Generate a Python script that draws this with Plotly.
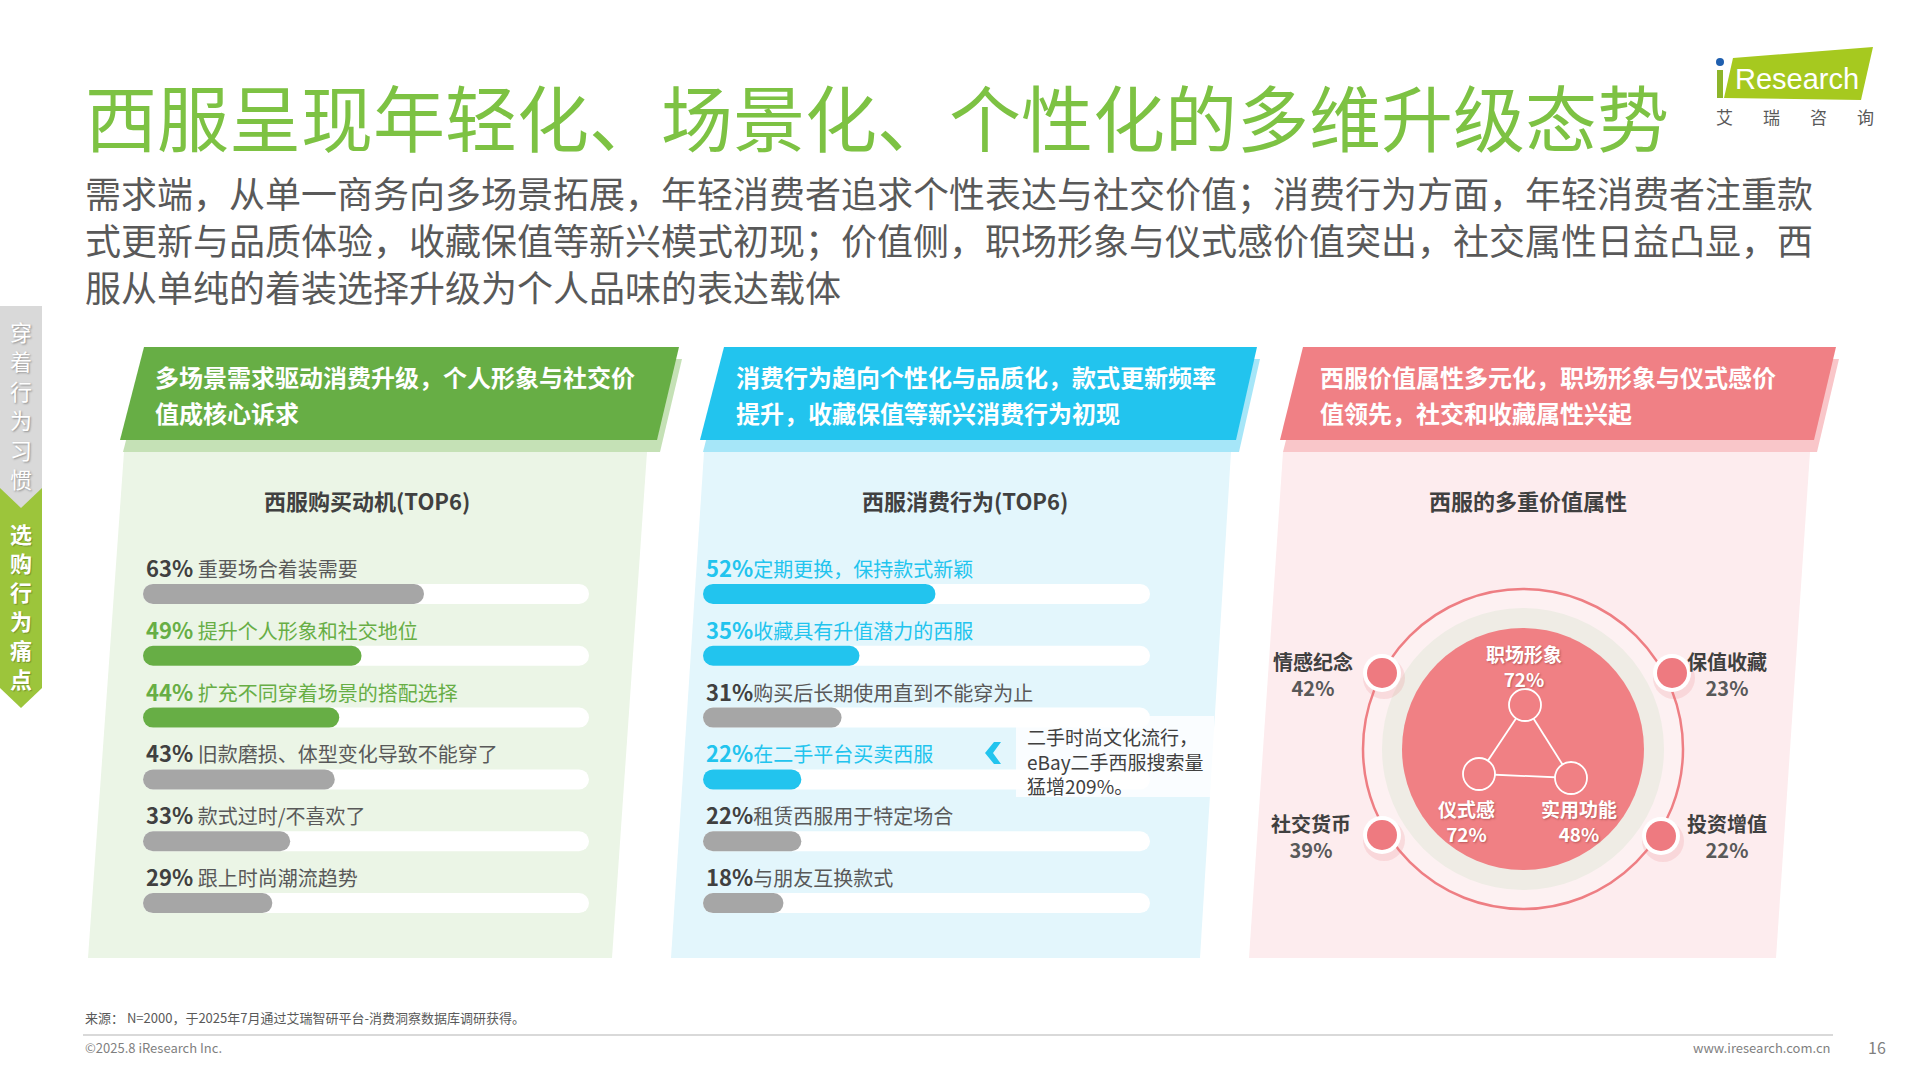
import plotly.graph_objects as go

# ---------------- data ----------------
TITLE = "西服呈现年轻化、场景化、个性化的多维升级态势"
SUBTITLE = [
    "需求端，从单一商务向多场景拓展，年轻消费者追求个性表达与社交价值；消费行为方面，年轻消费者注重款",
    "式更新与品质体验，收藏保值等新兴模式初现；价值侧，职场形象与仪式感价值突出，社交属性日益凸显，西",
    "服从单纯的着装选择升级为个人品味的表达载体",
]
PANEL_HEADERS = [
    ["多场景需求驱动消费升级，个人形象与社交价", "值成核心诉求"],
    ["消费行为趋向个性化与品质化，款式更新频率", "提升，收藏保值等新兴消费行为初现"],
    ["西服价值属性多元化，职场形象与仪式感价", "值领先，社交和收藏属性兴起"],
]
PANEL_TITLES = ["西服购买动机(TOP6)", "西服消费行为(TOP6)", "西服的多重价值属性"]

motive_labels = ["重要场合着装需要", "提升个人形象和社交地位", "扩充不同穿着场景的搭配选择",
                 "旧款磨损、体型变化导致不能穿了", "款式过时/不喜欢了", "跟上时尚潮流趋势"]
motive_values = [63, 49, 44, 43, 33, 29]
motive_highlight = [False, True, True, False, False, False]

behavior_labels = ["定期更换，保持款式新颖", "收藏具有升值潜力的西服", "购买后长期使用直到不能穿为止",
                   "在二手平台买卖西服", "租赁西服用于特定场合", "与朋友互换款式"]
behavior_values = [52, 35, 31, 22, 22, 18]
behavior_highlight = [True, True, False, True, False, False]
behavior_note = ["二手时尚文化流行，", "eBay二手西服搜索量", "猛增209%。"]

core_names = ["职场形象", "仪式感", "实用功能"]
core_values = [72, 72, 48]
outer_names = ["情感纪念", "保值收藏", "社交货币", "投资增值"]
outer_values = [42, 23, 39, 22]

SIDE_TOP = "穿着行为习惯"
SIDE_BOTTOM = "选购行为痛点"
SOURCE = "来源： N=2000，于2025年7月通过艾瑞智研平台-消费洞察数据库调研获得。"
COPYRIGHT = "©2025.8 iResearch Inc."
WEBSITE = "www.iresearch.com.cn"
PAGE = "16"

# ---------------- styles ----------------
W, H = 1920, 1080
CJK = "Noto Sans CJK SC, Microsoft YaHei, sans-serif"
GREEN_T = "#7DC243"
GREEN = "#67AE45"
CYAN = "#22C4EE"
RED = "#F08085"
GRAY_BAR = "#A6A6A6"
DARK = "#404040"
MID = "#595959"
BAR_PX = 20  # bar thickness in pixels

fig = go.Figure()
shapes = []
ann = []


def text(x, y, s, size, color, weight="normal", xanchor="left", yanchor="middle",
         family=CJK, shadow=None, xref="x", yref="y", **kw):
    f = dict(size=size, color=color, family=family, weight=weight)
    if shadow:
        f["shadow"] = shadow
    ann.append(dict(x=x, y=y, xref=xref, yref=yref, text=s, showarrow=False,
                    xanchor=xanchor, yanchor=yanchor, font=f, **kw))


def path(d, fill, layer="below", line=None):
    shapes.append(dict(type="path", path=d, xref="x", yref="y", fillcolor=fill,
                       line=line or dict(width=0), layer=layer))


def circle(cx, cy, r, fill, lw=0, lc="white", layer="above"):
    shapes.append(dict(type="circle", xref="x", yref="y", x0=cx - r, x1=cx + r,
                       y0=cy - r, y1=cy + r, fillcolor=fill,
                       line=dict(width=lw, color=lc), layer=layer))


# ---------------- title / subtitle ----------------
text(83, 114, TITLE, 72, GREEN_T)
text(83, 239, "<br>".join(SUBTITLE), 36, MID, align="left")

# ---------------- logo ----------------
path("M1733,58 L1873,47 L1861,100 L1724,98 Z", "#A6C91F")
shapes.append(dict(type="rect", xref="x", yref="y", x0=1717, x1=1723, y0=70, y1=98,
                   fillcolor="#8DB52A", line=dict(width=0), layer="below"))
circle(1720, 62, 4, "#1F5FAF", layer="below")
text(1733, 79, "Research", 29, "white", family="Liberation Sans, Arial, sans-serif")
for i, ch in enumerate("艾瑞咨询"):
    text(1724 + 47 * i, 116, ch, 17, MID, xanchor="center")

# ---------------- side tab ----------------
path("M0,480 L42,480 L42,688 L21,708 L0,688 Z", "#9CC53B")
path("M0,306 L42,306 L42,488 L21,508 L0,488 Z", "#D9D9D9")
for i, ch in enumerate(SIDE_TOP):
    text(21, 331 + 29.4 * i, ch, 22, "white", xanchor="center",
         shadow="1px 1px 2px rgba(0,0,0,0.35)")
for i, ch in enumerate(SIDE_BOTTOM):
    text(21, 533 + 29 * i, ch, 22, "white", weight="bold", xanchor="center",
         shadow="1px 1px 1px rgba(0,0,0,0.25)")

# ---------------- panels ----------------
panels = [
    dict(head=[(144, 347), (679, 347), (657, 440), (120, 440)],
         body="M124,452 L647,452 L612,958 L88,958 Z",
         c_head=GREEN, c_shadow="#C5E1B6", c_body="#EBF5E6", tx=153, cx=367),
    dict(head=[(724, 347), (1257, 347), (1236, 440), (700, 440)],
         body="M704,452 L1231,452 L1200,958 L671,958 Z",
         c_head=CYAN, c_shadow="#A6E6F8", c_body="#E3F6FC", tx=734, cx=965),
    dict(head=[(1303, 347), (1836, 347), (1814, 440), (1280, 440)],
         body="M1283,452 L1810,452 L1776,958 L1249,958 Z",
         c_head=RED, c_shadow="#F9C6C9", c_body="#FDECEE", tx=1318, cx=1528),
]
for k, p in enumerate(panels):
    path(p["body"], p["c_body"])
    hs = " L".join(f"{x + 3},{y + 12}" for x, y in p["head"])
    path("M" + hs + " Z", p["c_shadow"])
    hp = " L".join(f"{x},{y}" for x, y in p["head"])
    path("M" + hp + " Z", p["c_head"])
    for j, line in enumerate(PANEL_HEADERS[k]):
        text(p["tx"], 376 + 36 * j, line, 24, "white", weight="bold")
    text(p["cx"], 500, PANEL_TITLES[k], 22, DARK, weight="bold", xanchor="center")

# ---------------- bar panels (pill bars: thick lines with round caps) ----------------
ydom = [1 - 934 / H, 1 - 563 / H]
bar_sets = [
    (motive_labels, motive_values, motive_highlight, GREEN, "x2", "y2", (143, 589), " "),
    (behavior_labels, behavior_values, behavior_highlight, CYAN, "x3", "y3", (703, 1150), ""),
]


def pill_group(labels, vals, color, xa, ya, r):
    xs, ys = [], []
    for lab, v in zip(labels, vals):
        xs += [r, v - r, None]
        ys += [lab, lab, None]
    if xs:
        fig.add_trace(go.Scatter(x=xs, y=ys, mode="lines", connectgaps=False,
                                 line=dict(color=color, width=BAR_PX),
                                 xaxis=xa, yaxis=ya, hoverinfo="skip", showlegend=False,
                                 cliponaxis=False))


for labels, vals, hl, hc, xa, ya, (px0, px1), sep in bar_sets:
    r = (BAR_PX / 2) / ((px1 - px0) / 100)  # cap radius in data units
    pill_group(labels, [100] * len(vals), "white", xa, ya, r)
    pill_group([l for l, h in zip(labels, hl) if not h],
               [v for v, h in zip(vals, hl) if not h], GRAY_BAR, xa, ya, r)
    pill_group([l for l, h in zip(labels, hl) if h],
               [v for v, h in zip(vals, hl) if h], hc, xa, ya, r)
    for lab, v, h in zip(labels, vals, hl):
        if h:
            s = f"<b><span style='font-size:22px'>{v}%</span></b>{sep}{lab}"
            col = hc
        else:
            s = (f"<b><span style='font-size:22px;color:{DARK}'>{v}%</span></b>"
                 f"{sep}{lab}")
            col = MID
        ann.append(dict(x=0, y=lab, xref=xa, yref=ya, text=s, showarrow=False,
                        xanchor="left", yanchor="middle", xshift=1, yshift=27,
                        font=dict(size=20, color=col, family=CJK)))

# annotation box in behaviour panel
shapes.append(dict(type="rect", xref="x", yref="y", x0=1016, x1=1214, y0=716, y1=797,
                   fillcolor="rgba(255,255,255,0.8)", line=dict(width=0), layer="above"))
path("M1001,742 L993,753 L1001,764 L994,764 L985,753 L994,742 Z", CYAN, layer="above")
text(1025, 761, "<br>".join(behavior_note), 19, DARK, align="left")

# ---------------- value attribute diagram ----------------
CX, CY = 1523, 749
circle(CX, CY, 160, "#FDF1F2", lw=2.5, lc="#EE7E83", layer="below")
circle(CX, CY, 141, "#EFECE5", layer="below")
circle(CX, CY, 121, "#F08084", layer="below")

core_pos = [(1525, 705), (1479, 774), (1571, 778)]
core_lab = [(1524, 666), (1466, 821), (1579, 821)]
for a in range(3):
    b = (a + 1) % 3
    shapes.append(dict(type="line", xref="x", yref="y", x0=core_pos[a][0], y0=core_pos[a][1],
                       x1=core_pos[b][0], y1=core_pos[b][1], line=dict(color="white", width=1.8),
                       layer="above"))
for (x, y) in core_pos:
    circle(x, y, 16, "#F08084", lw=1.8, lc="white")
for (x, y), nm, v in zip(core_lab, core_names, core_values):
    text(x, y, f"{nm}<br>{v}%", 19, "white", weight="bold", xanchor="center",
         shadow="1px 1px 2px rgba(120,40,40,0.45)")

outer_pos = [(1382, 673), (1672, 673), (1382, 835), (1661, 836)]
outer_lab = [(1313, 674), (1727, 674), (1311, 836), (1727, 836)]
for (x, y) in outer_pos:
    circle(x + 2, y + 5, 21, "rgba(235,120,125,0.18)", layer="below")
    circle(x, y, 19, "white")
    circle(x, y, 15, "#EE7A80")
for (x, y), nm, v in zip(outer_lab, outer_names, outer_values):
    text(x, y, f"<b>{nm}</b><br><b><span style='color:{MID}'>{v}%</span></b>", 20, DARK,
         xanchor="center")

# ---------------- footer ----------------
text(83, 1017, SOURCE, 13, MID)
shapes.append(dict(type="line", xref="x", yref="y", x0=83, x1=1833, y0=1035, y1=1035,
                   line=dict(color="#D9D9D9", width=2)))
text(83, 1047, COPYRIGHT, 13, "#7F7F7F")
text(1833, 1047, WEBSITE, 13, "#7F7F7F", xanchor="right")
text(1877, 1047, PAGE, 16, "#7F7F7F", xanchor="center")

# ---------------- layout ----------------
hidden = dict(visible=False, showgrid=False, zeroline=False, fixedrange=True)
fig.update_layout(
    width=W, height=H, margin=dict(l=0, r=0, t=0, b=0, pad=0),
    paper_bgcolor="white", plot_bgcolor="rgba(0,0,0,0)",
    showlegend=False,
    xaxis=dict(range=[0, W], domain=[0, 1], **hidden),
    yaxis=dict(range=[H, 0], domain=[0, 1], **hidden),
    xaxis2=dict(range=[0, 100], domain=[143 / W, 589 / W], anchor="y2", **hidden),
    yaxis2=dict(range=[5.5, -0.5], domain=ydom, anchor="x2", type="category",
                categoryorder="array", categoryarray=motive_labels, **hidden),
    xaxis3=dict(range=[0, 100], domain=[703 / W, 1150 / W], anchor="y3", **hidden),
    yaxis3=dict(range=[5.5, -0.5], domain=ydom, anchor="x3", type="category",
                categoryorder="array", categoryarray=behavior_labels, **hidden),
    shapes=shapes, annotations=ann,
)

fig.write_html(
    "out.html", config={"displayModeBar": False, "staticPlot": True},
    post_script=(
        "document.body.style.margin='0';document.body.style.overflow='hidden';"
        "document.querySelectorAll('.scatterlayer .js-line').forEach(function(p){"
        "p.style.strokeLinecap='round';p.setAttribute('stroke-linecap','round');});"
    ),
)
